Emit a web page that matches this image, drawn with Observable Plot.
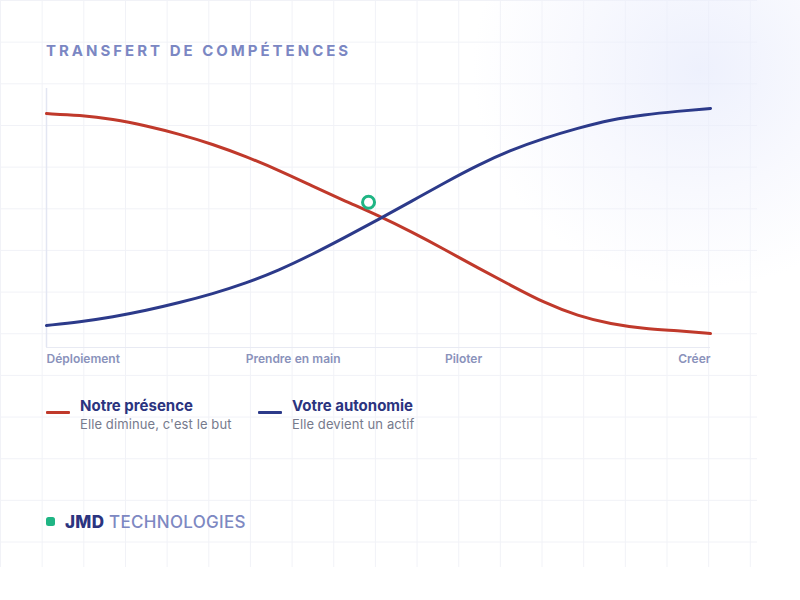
<!DOCTYPE html>
<html lang="fr">
<head>
<meta charset="utf-8">
<script src="https://cdn.jsdelivr.net/npm/d3@7"></script>
<script src="https://cdn.jsdelivr.net/npm/@observablehq/plot@0.6"></script>
<style>
  html, body { margin: 0; padding: 0; background: #ffffff; }
  body { width: 800px; height: 600px; position: relative; overflow: hidden; font-family: Inter, "Open Sans", sans-serif; }
  #grid {
    position: absolute; left: 0; top: 0; width: 757px; height: 567px;
    background-image:
      linear-gradient(to right, #f1f2f7 1px, transparent 1px),
      linear-gradient(to bottom, #f1f2f7 1px, transparent 1px);
    background-size: 41.667px 41.667px, 41.667px 41.667px;
  }
  #glow {
    position: absolute; left: 470px; top: -150px; width: 460px; height: 440px;
    background: radial-gradient(ellipse at 50% 50%, rgba(232,236,252,0.75) 0%, rgba(240,242,253,0.45) 40%, rgba(255,255,255,0) 70%);
  }
  #title {
    position: absolute; left: 46px; top: 41px; font-size: 15px; font-weight: 700;
    letter-spacing: 3.0px; color: #7b87c3; line-height: 20px; white-space: nowrap;
  }
  #chart { position: absolute; left: 0; top: 70px; }
  .legend-item { position: absolute; top: 396px; }
  .swatch { position: absolute; left: 0; top: 15px; width: 24px; height: 3px; border-radius: 1px; }
  .lname { position: absolute; left: 34px; top: 0; font-size: 15px; font-weight: 700; color: #2b347f; white-space: nowrap; line-height: 20px; }
  .ldesc { position: absolute; left: 34px; top: 18px; font-size: 13px; font-weight: 400; letter-spacing: 0.1px; color: #767a8c; white-space: nowrap; line-height: 20px; }
  #footer { position: absolute; left: 46px; top: 510px; height: 24px; white-space: nowrap; }
  #footer .dot { position: absolute; left: 0; top: 7px; width: 9px; height: 9px; border-radius: 2.5px; background: #1fb584; }
  #footer .brand { position: absolute; left: 19px; top: 0; font-size: 17px; letter-spacing: 0.3px; line-height: 24px; color: #7d88c2; font-weight: 500; }
  #footer .brand b { color: #2b347f; font-weight: 800; }
</style>
</head>
<body>
<div id="grid"></div>
<div id="glow"></div>
<div id="title">TRANSFERT DE COMPÉTENCES</div>
<div id="chart"></div>
<div id="legend"></div>
<div id="footer"><span class="dot"></span><span class="brand"><b>JMD</b> TECHNOLOGIES</span></div>
<script>
// ---- data ----
const steps = [0, 5, 10, 15, 20, 25, 30, 35, 40, 45, 50, 55, 60, 65, 70, 75, 80, 85, 90, 95, 100];
const presence = [90.3, 89.7, 88.2, 85.6, 82.4, 78.5, 73.8, 68.4, 62.4, 56.5, 50.9, 44.6, 37.8, 30.7, 23.9, 17.2, 12.2, 9.0, 7.3, 6.5, 5.4];
const autonomie = [8.5, 9.9, 11.8, 14.3, 17.3, 20.7, 24.8, 29.8, 35.9, 42.6, 49.4, 56.5, 63.7, 70.5, 76.3, 80.9, 84.7, 88.0, 89.9, 91.2, 92.3];
const tickValues = [0, 30, 60, 100];
const tickLabels = ["Déploiement", "Prendre en main", "Piloter", "Créer"];
const marker = [{x: 48.5, y: 56.1}];
const seriesNames = ["Notre présence", "Votre autonomie"];
const seriesDescs = ["Elle diminue, c'est le but", "Elle devient un actif"];
const seriesColors = ["#c0392b", "#2c3a8a"];

const rows = [];
steps.forEach((s, i) => {
  rows.push({x: s, y: presence[i], serie: seriesNames[0]});
  rows.push({x: s, y: autonomie[i], serie: seriesNames[1]});
});
const labelOf = v => tickLabels[tickValues.indexOf(v)];

const chart = Plot.plot({
  width: 800,
  height: 310,
  marginLeft: 46,
  marginRight: 90,
  marginTop: 18,
  marginBottom: 33,
  style: {background: "transparent", fontFamily: "Inter, 'Open Sans', sans-serif", overflow: "visible"},
  x: {domain: [0, 100]},
  y: {domain: [0, 100], axis: null},
  color: {domain: seriesNames, range: seriesColors},
  marks: [
    Plot.ruleY([0], {stroke: "#e8eaf3", strokeWidth: 1}),
    Plot.ruleX([0], {stroke: "#e3e6f2", strokeWidth: 1.5}),
    Plot.axisX(tickValues.slice(0, 3), {label: null, tickSize: 0, tickPadding: 7, tickFormat: labelOf, textAnchor: "start", fill: "#8a92bb", fontSize: 12, fontWeight: 600}),
    Plot.axisX([100], {label: null, tickSize: 0, tickPadding: 7, tickFormat: labelOf, textAnchor: "end", fill: "#8a92bb", fontSize: 12, fontWeight: 600}),
    Plot.line(rows, {x: "x", y: "y", stroke: "serie", z: "serie", strokeWidth: 3, curve: "basis", strokeLinecap: "round"}),
    Plot.dot(marker, {x: "x", y: "y", r: 6, stroke: "#1fb584", strokeWidth: 3, fill: "#ffffff"})
  ]
});
document.getElementById("chart").appendChild(chart);

const legend = document.getElementById("legend");
const legendLeft = [46, 258];
seriesNames.forEach((n, i) => {
  const item = document.createElement("div");
  item.className = "legend-item";
  item.style.left = legendLeft[i] + "px";
  item.innerHTML = `<span class="swatch" style="background:${seriesColors[i]}"></span><span class="lname">${n}</span><span class="ldesc">${seriesDescs[i]}</span>`;
  legend.appendChild(item);
});
</script>
</body>
</html>
